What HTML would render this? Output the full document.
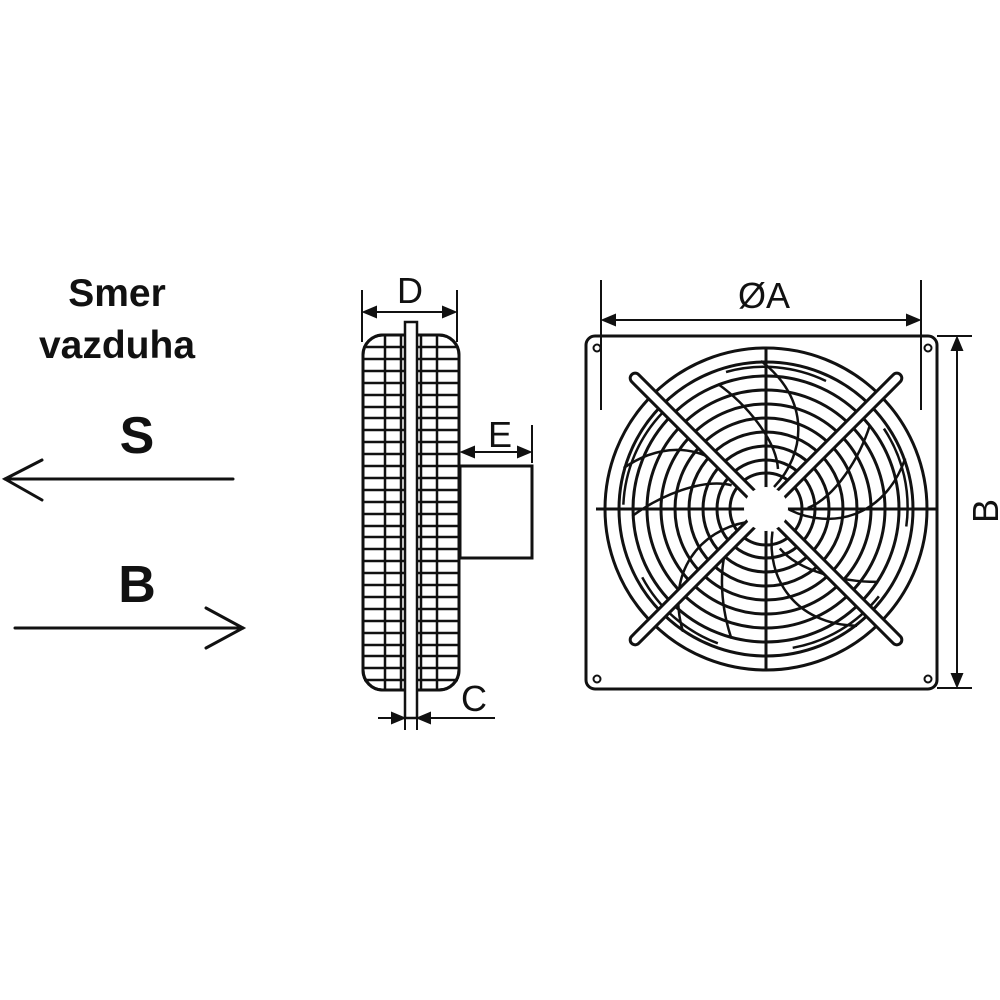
<!DOCTYPE html>
<html><head><meta charset="utf-8"><style>html,body{margin:0;padding:0;background:#fff}svg{display:block}</style></head>
<body>
<svg width="1000" height="1000" viewBox="0 0 1000 1000" xmlns="http://www.w3.org/2000/svg" font-family="Liberation Sans, sans-serif">
<rect width="1000" height="1000" fill="#fff"/>
<g fill="#111">
<text x="117" y="306" font-size="39" font-weight="bold" text-anchor="middle">Smer</text>
<text x="117" y="358" font-size="39" font-weight="bold" text-anchor="middle">vazduha</text>
<text x="137" y="453" font-size="52" font-weight="bold" text-anchor="middle">S</text>
<text x="137" y="602" font-size="52" font-weight="bold" text-anchor="middle">B</text>
</g>
<g stroke="#111" stroke-width="3" fill="none" stroke-linecap="round">
<line x1="5" y1="479" x2="233" y2="479"/>
<polyline points="42,460 5,479 42,500"/>
<line x1="15" y1="628" x2="243" y2="628"/>
<polyline points="206,608 243,628 206,648"/>
</g>
<!-- side view -->
<g stroke="#111" stroke-width="2.5" fill="none">
<rect x="363" y="335" width="96" height="355" rx="20" fill="#fff" stroke-width="3"/>
<path d="M364 347H458M364 359H458M364 371H458M364 383H458M364 395H458M364 407H458M364 418H458M364 430H458M364 442H458M364 454H458M364 466H458M364 478H458M364 490H458M364 502H458M364 514H458M364 526H458M364 537H458M364 549H458M364 561H458M364 573H458M364 585H458M364 597H458M364 609H458M364 621H458M364 633H458M364 645H458M364 656H458M364 668H458M364 680H458"/>
<rect x="363" y="335" width="96" height="355" rx="20" stroke-width="3"/>
<line x1="385" y1="336" x2="385" y2="689"/>
<line x1="437" y1="336" x2="437" y2="689"/>
<line x1="401" y1="336" x2="401" y2="689"/>
<line x1="421" y1="336" x2="421" y2="689"/>
<rect x="405" y="322" width="12" height="396" fill="#fff"/>
<rect x="460" y="466" width="72" height="92" fill="#fff" stroke-width="3"/>
</g>
<g stroke="#111" stroke-width="2" fill="#111">
<line x1="362" y1="290" x2="362" y2="342"/>
<line x1="457" y1="290" x2="457" y2="342"/>
<line x1="368" y1="312" x2="451" y2="312"/>
<path d="M364 312l12-5v10zM455 312l-12-5v10z"/>
<line x1="532" y1="425" x2="532" y2="463"/>
<line x1="466" y1="452" x2="526" y2="452"/>
<path d="M462 452l12-5v10zM530 452l-12-5v10z"/>
<line x1="405" y1="718" x2="405" y2="730"/>
<line x1="417" y1="718" x2="417" y2="730"/>
<line x1="378" y1="718" x2="400" y2="718"/>
<line x1="422" y1="718" x2="495" y2="718"/>
<path d="M404 718l-12-5v10zM418 718l12-5v10z"/>
</g>
<g fill="#111" font-size="36">
<text x="410" y="303" text-anchor="middle">D</text>
<text x="500" y="447" text-anchor="middle">E</text>
<text x="474" y="711" text-anchor="middle">C</text>
</g>
<!-- front view -->
<g stroke="#111" stroke-width="3" fill="none">
<rect x="586" y="336" width="351" height="353" rx="9" fill="#fff"/>
<circle cx="766" cy="509" r="161"/>
<g stroke-width="3">
<circle cx="766" cy="509" r="147"/><circle cx="766" cy="509" r="133"/><circle cx="766" cy="509" r="119"/>
<circle cx="766" cy="509" r="105"/><circle cx="766" cy="509" r="91"/><circle cx="766" cy="509" r="77"/>
<circle cx="766" cy="509" r="63"/><circle cx="766" cy="509" r="49"/><circle cx="766" cy="509" r="36"/>
</g>
<g transform="translate(766 509)" stroke-width="2.5">
<g><path d="M8,-22 C40,-55 45,-110 -5,-148"/><path d="M-40,-137 A142 142 0 0 1 60,-128"/><path d="M-48,-125 C-20,-105 10,-70 12,-40"/></g>
<g transform="rotate(72)"><path d="M8,-22 C40,-55 45,-110 -5,-148"/><path d="M-40,-137 A142 142 0 0 1 60,-128"/><path d="M-48,-125 C-20,-105 10,-70 12,-40"/></g>
<g transform="rotate(144)"><path d="M8,-22 C40,-55 45,-110 -5,-148"/><path d="M-40,-137 A142 142 0 0 1 60,-128"/><path d="M-48,-125 C-20,-105 10,-70 12,-40"/></g>
<g transform="rotate(216)"><path d="M8,-22 C40,-55 45,-110 -5,-148"/><path d="M-40,-137 A142 142 0 0 1 60,-128"/><path d="M-48,-125 C-20,-105 10,-70 12,-40"/></g>
<g transform="rotate(288)"><path d="M8,-22 C40,-55 45,-110 -5,-148"/><path d="M-40,-137 A142 142 0 0 1 60,-128"/><path d="M-48,-125 C-20,-105 10,-70 12,-40"/></g>
<g stroke-width="3">
<g transform="rotate(45)"><rect x="-5" y="-190" width="10" height="380" rx="5" fill="#fff"/></g>
<g transform="rotate(-45)"><rect x="-5" y="-190" width="10" height="380" rx="5" fill="#fff"/></g>
<line x1="-170" y1="0" x2="170" y2="0"/>
<line x1="0" y1="-161" x2="0" y2="161"/>
</g>
<circle r="22" fill="#fff" stroke="none"/>
</g>
<g stroke-width="2">
<circle cx="597" cy="348" r="3.5"/><circle cx="928" cy="348" r="3.5"/>
<circle cx="597" cy="679" r="3.5"/><circle cx="928" cy="679" r="3.5"/>
</g>
</g>
<g stroke="#111" stroke-width="2" fill="#111">
<line x1="601" y1="280" x2="601" y2="410"/>
<line x1="921" y1="280" x2="921" y2="410"/>
<line x1="606" y1="320" x2="916" y2="320"/>
<path d="M603 320l12-5v10zM919 320l-12-5v10z"/>
<line x1="937" y1="336" x2="972" y2="336"/>
<line x1="937" y1="688" x2="972" y2="688"/>
<line x1="957" y1="342" x2="957" y2="682"/>
<path d="M957 338l-5 12h10zM957 686l-5-12h10z"/>
</g>
<g fill="#111" font-size="36">
<text x="764" y="308" text-anchor="middle">ØA</text>
<text transform="translate(998 511) rotate(-90)" text-anchor="middle">B</text>
</g>
</svg>
</body></html>
